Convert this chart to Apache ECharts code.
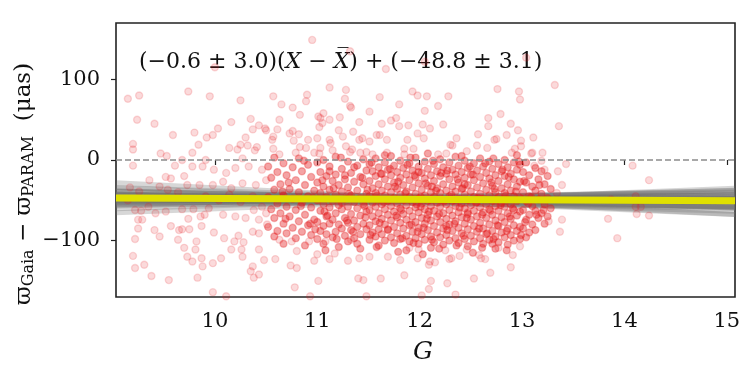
<!DOCTYPE html>
<html lang="en">
<head>
<meta charset="UTF-8">
<title>Gaia - PARAM parallax offset</title>
<script src="https://cdn.jsdelivr.net/npm/echarts@6/dist/echarts.min.js"></script>
<style>
    html, body { margin: 0; padding: 0; background: #fff; }
    #container { width: 750px; height: 375px; }
</style>
</head>
<body>
<div id="container"></div>
<script>
    // axis range and ticks
    var xRange = [9.034, 15.08];
    var yRange = [-170, 170];
    var xTicks = [10, 11, 12, 13, 14, 15];
    var yTicks = [-100, 0, 100];

    // best fit (yellow) at the two ends of the x range
    var fitY = [-47.1, -50.7];

    // posterior sample lines (grey band): value at left end, value at right end
    var bandLeft = [-34.3, -34.1, -42.0, -38.6, -42.2, -39.2, -45.5, -43.1, -49.5, -43.9,
                    -46.4, -42.9, -49.2, -47.5, -46.4, -52.4, -50.7, -50.2, -55.9, -49.5,
                    -54.0, -57.0, -55.5, -60.5, -47.1, -43.9, -48.5, -53.8, -38.6, -51.7,
                    -28.3, -65.4];
    var bandRight = [-67.6, -59.6, -63.7, -57.4, -58.5, -53.1, -57.6, -53.4, -58.0, -50.6,
                     -51.9, -47.1, -52.2, -49.4, -47.0, -51.2, -47.7, -45.4, -49.2, -41.0,
                     -43.1, -43.1, -38.0, -37.5, -50.7, -43.9, -60.0, -47.7, -58.6, -39.6,
                     -67.7, -35.1];

    // stars away from the crowded middle: [G, offset]
    var starsOuter = [
        [9.15,76],[9.26,80],[9.74,85],[9.95,79],[10.25,74],[10.0,115],[9.24,50],[9.41,45],[9.59,31],[9.80,34],
        [10.03,39],[10.16,47],[10.35,51],[10.43,43],[10.37,38],[10.50,37],[9.98,31],[9.92,28],[9.84,19],[10.14,15],
        [10.30,28],[10.32,18],[10.25,19],[10.22,13],[10.39,12],[9.20,13],[9.47,8],[9.53,5],[9.78,9],[9.91,0],
        [9.68,0],[10.27,2],[9.20,20],[9.20,-7],
        [10.95,149],[11.32,135],[11.12,90],[11.28,87],[11.27,76],[11.33,65],[10.90,81],[10.89,73],[10.76,65],[10.57,79],
        [10.65,69],[10.63,50],[10.83,56],[11.01,54],[11.22,53],[11.41,47],[11.51,60],[11.02,41],[11.12,25],[11.25,29],
        [11.35,35],[11.41,25],[10.91,25],[10.73,33],[10.57,29],[10.49,39],[10.41,16],[10.57,14],[10.83,16],[11.02,8],
        [11.15,12],[11.32,10],[11.48,10],
        [13.04,127],[12.05,122],[11.67,113],[13.32,93],[11.61,78],[11.93,85],[11.98,80],[12.07,79],[12.28,79],[12.76,88],
        [12.97,85],[12.98,75],[11.80,69],[12.18,67],[12.05,61],[12.79,57],[13.36,42],[11.72,49],[11.77,52],[11.63,45],
        [11.80,42],[11.89,43],[12.10,39],[12.23,44],[12.67,52],[12.67,42],[12.89,45],[12.96,37],[13.11,28],[12.57,32],
        [12.75,26],[12.85,31],[12.04,27],[12.36,27],[12.30,19],[11.61,31],[11.68,25],
        [11.06,58],[11.12,50],[11.32,67],[10.61,38],[10.76,36],[10.82,32],[11.03,52],[11.05,46],[11.21,37],[11.00,27],
        [11.44,27],[11.58,31],[11.88,25],[11.98,33],[12.03,44],[10.56,25],[10.77,24],[11.13,21],[11.28,17],[11.51,23],
        [11.85,14],[11.94,14],[10.89,15],[11.03,15],[10.97,9],[11.34,13],[11.42,9],[11.54,7],[11.68,9],[11.85,7],
        [10.63,7],[10.79,9],
        [12.73,25],[12.99,24],[12.32,18],[12.56,18],[12.66,15],[12.46,11],[13.10,9],[13.20,9],[12.18,7],[12.26,8],
        [12.90,9],[12.93,14],
        [14.08,-7],[14.24,-25],[13.35,-14],[13.22,-12],[13.19,-1],[13.09,8],[12.99,17],[13.43,-5],[13.39,-31],[13.34,-41],
        [13.87,-49],[14.11,-45],[14.11,-58],[14.16,-58],[14.24,-69],[14.12,-67],[13.84,-73],[13.93,-97],[13.39,-74],[13.37,-89],
        [13.26,-76],[13.12,-7],
        [11.62,-147],[11.85,-143],[12.11,-150],[12.09,-160],[12.27,-153],[12.35,-167],[12.53,-147],[12.69,-140],[12.89,-133],[12.02,-168],
        [11.70,-171],[12.60,-122],[12.91,-118],[12.98,-107],[12.10,-126],[12.15,-127],[11.98,-122],[11.81,-124],[11.69,-120],[12.31,-122],
        [12.39,-119],[12.46,-111],[12.25,-112],[11.90,-109],[11.99,-111],[12.09,-130],[12.29,-123],[12.58,-118],[12.64,-123],[12.77,-109],
        [10.78,-158],[11.01,-150],[11.40,-147],[11.45,-149],[10.74,-131],[10.80,-134],[10.97,-125],[11.00,-117],[11.12,-123],[11.17,-116],
        [11.30,-125],[11.41,-122],[11.51,-120],[10.59,-123],[10.80,-113],[10.75,-101],[10.63,-99],[10.92,-101],[11.08,-101],[11.33,-99],
        [10.93,-169],[11.48,-169],
        [9.61,-7],[9.17,-34],[9.52,-21],[9.57,-23],[9.70,-20],[9.46,-33],[9.54,-37],[9.64,-40],[9.26,-39],[9.22,-62],
        [9.28,-63],[9.35,-58],[9.42,-66],[9.52,-64],[9.25,-74],[9.29,-74],[9.25,-85],[9.41,-87],[9.46,-95],[9.57,-82],
        [9.65,-87],[9.68,-86],[9.75,-86],[9.74,-73],[9.68,-61],[9.79,-61],[9.87,-82],[9.86,-70],[9.90,-68],[9.99,-90],
        [10.09,-97],[10.19,-101],[10.28,-102],[10.37,-89],[10.43,-91],[10.23,-94],[9.22,-98],[9.64,-99],[9.82,-101],[9.70,-109],
        [9.81,-111],[9.73,-120],[9.78,-126],[9.87,-122],[9.88,-132],[9.98,-128],[10.06,-122],[10.16,-111],[10.26,-111],[10.27,-120],
        [10.37,-132],[10.35,-138],[10.38,-146],[10.43,-142],[10.48,-124],[10.43,-111],[9.20,-119],[9.22,-134],[9.31,-130],[9.38,-144],
        [9.55,-149],[9.83,-146],[9.98,-164],[10.11,-169],
        [9.78,-8],[9.88,-8],[9.99,-12],[10.11,-16],[10.20,-10],[10.33,-8],[10.46,-12],[9.73,-31],[9.85,-31],[9.98,-31],
        [10.08,-27],[10.16,-35],[10.27,-29],[10.40,-31],[10.50,-25],[9.91,-45],[10.04,-50],[10.14,-43],[10.25,-52],[10.37,-45],
        [10.46,-58],[9.94,-60],[10.08,-68],[10.20,-70],[10.30,-72],[10.43,-74],[10.51,-80],[10.50,-66],[10.38,-62],[9.36,-25],
        [9.15,-50]
    ];

    // stars in the crowded middle (10.5 < G < 13.3): [G, offset]
    var starsCrowd = [
        [10.52,-8],[10.52,-46],[10.52,-83],[10.55,-22],[10.55,-61],[10.58,3],[10.58,-37],[10.58,-72],[10.58,-95],[10.61,-15],
        [10.61,-54],[10.61,-88],[10.64,-30],[10.64,-66],[10.67,-4],[10.67,-44],[10.67,-79],[10.67,-104],[10.70,-19],[10.70,-58],
        [10.70,-91],[10.73,-36],[10.73,-70],[10.76,-9],[10.76,-48],[10.76,-84],[10.79,-25],[10.79,-62],[10.79,-97],[10.82,2],
        [10.82,-40],[10.82,-76],[10.85,-14],[10.85,-53],[10.85,-89],[10.88,-31],[10.88,-68],[10.88,-106],[10.91,-6],[10.91,-45],
        [10.91,-81],[10.94,-21],[10.94,-59],[10.94,-93],[10.97,-38],[10.97,-74],
        [11.00,-3],[11.00,-28],[11.00,-50],[11.00,-77],[11.00,-98],[11.03,-15],[11.03,-41],[11.03,-63],[11.03,-88],[11.06,0],
        [11.06,-33],[11.06,-55],[11.06,-82],[11.06,-104],[11.09,-20],[11.09,-46],[11.09,-70],[11.09,-92],[11.12,-8],[11.12,-37],
        [11.12,-59],[11.12,-79],[11.15,-26],[11.15,-51],[11.15,-74],[11.15,-96],[11.18,4],[11.18,-18],[11.18,-43],[11.18,-66],
        [11.18,-89],[11.21,-31],[11.21,-56],[11.21,-80],[11.21,-108],[11.24,-11],[11.24,-39],[11.24,-61],[11.24,-85],[11.27,-24],
        [11.27,-48],[11.27,-72],[11.27,-94],[11.30,-2],[11.30,-34],[11.30,-58],[11.30,-78],[11.30,-101],[11.33,-16],[11.33,-44],
        [11.33,-67],[11.33,-87],[11.36,-27],[11.36,-52],[11.36,-75],[11.36,-97],[11.39,-7],[11.39,-38],[11.39,-60],[11.39,-83],
        [11.42,-21],[11.42,-47],[11.42,-69],[11.42,-92],[11.42,-110],[11.45,1],[11.45,-30],[11.45,-55],[11.45,-79],[11.48,-13],
        [11.48,-42],[11.48,-64],[11.48,-86],
        [11.51,-5],[11.51,-26],[11.51,-45],[11.51,-62],[11.51,-81],[11.51,-99],[11.54,-14],[11.54,-35],[11.54,-53],[11.54,-70],
        [11.54,-90],[11.57,2],[11.57,-20],[11.57,-41],[11.57,-58],[11.57,-76],[11.57,-95],[11.60,-9],[11.60,-30],[11.60,-49],
        [11.60,-66],[11.60,-86],[11.60,-106],[11.63,-17],[11.63,-38],[11.63,-55],[11.63,-73],[11.63,-92],[11.66,-3],[11.66,-24],
        [11.66,-44],[11.66,-61],[11.66,-80],[11.66,-100],[11.69,-12],[11.69,-33],[11.69,-51],[11.69,-68],[11.69,-87],[11.72,5],
        [11.72,-19],[11.72,-40],[11.72,-57],[11.72,-75],[11.72,-96],[11.75,-7],[11.75,-28],[11.75,-47],[11.75,-64],[11.75,-83],
        [11.75,-103],[11.78,-15],[11.78,-36],[11.78,-54],[11.78,-71],[11.78,-91],[11.81,-1],[11.81,-22],[11.81,-43],[11.81,-60],
        [11.81,-78],[11.81,-98],[11.84,-10],[11.84,-31],[11.84,-50],[11.84,-67],[11.84,-85],[11.87,-18],[11.87,-39],[11.87,-56],
        [11.87,-74],[11.87,-94],[11.87,-112],[11.90,-4],[11.90,-25],[11.90,-46],[11.90,-63],[11.90,-81],[11.90,-101],[11.93,-13],
        [11.93,-34],[11.93,-52],[11.93,-70],[11.93,-89],[11.96,3],[11.96,-21],[11.96,-42],[11.96,-59],[11.96,-77],[11.96,-97],
        [11.99,-8],[11.99,-29],[11.99,-48],[11.99,-65],[11.99,-84],[11.99,-104],[12.02,-16],[12.02,-37],[12.02,-54],[12.02,-72],
        [12.02,-92],[12.05,-2],[12.05,-23],[12.05,-44],[12.05,-61],[12.05,-79],[12.05,-99],[12.08,-11],[12.08,-32],[12.08,-51],
        [12.08,-68],[12.08,-87],[12.11,-19],[12.11,-40],[12.11,-57],[12.11,-75],[12.11,-95],[12.11,-109],[12.14,-5],[12.14,-26],
        [12.14,-46],[12.14,-63],[12.14,-82],[12.14,-102],[12.17,-14],[12.17,-35],[12.17,-53],[12.17,-70],[12.17,-90],[12.20,1],
        [12.20,-20],[12.20,-41],[12.20,-58],[12.20,-77],[12.20,-96],[12.23,-9],[12.23,-30],[12.23,-49],[12.23,-66],[12.23,-85],
        [12.23,-105],[12.26,-17],[12.26,-38],[12.26,-55],[12.26,-73],[12.26,-93],[12.29,-3],[12.29,-24],[12.29,-45],[12.29,-62],
        [12.29,-80],[12.29,-100],[12.32,-12],[12.32,-33],[12.32,-51],[12.32,-69],[12.32,-88],[12.35,4],[12.35,-18],[12.35,-39],
        [12.35,-57],[12.35,-76],[12.35,-97],[12.38,-7],[12.38,-28],[12.38,-48],[12.38,-65],[12.38,-84],[12.38,-103],[12.41,-15],
        [12.41,-36],[12.41,-54],[12.41,-71],[12.41,-91],[12.44,-1],[12.44,-22],[12.44,-43],[12.44,-60],[12.44,-79],[12.44,-98],
        [12.47,-10],[12.47,-31],[12.47,-50],[12.47,-67],[12.47,-86],[12.47,-107],[12.50,-18],[12.50,-39],[12.50,-56],[12.50,-74],
        [12.50,-94],[12.53,-4],[12.53,-25],[12.53,-46],[12.53,-63],[12.53,-82],[12.53,-101],[12.56,-13],[12.56,-34],[12.56,-52],
        [12.56,-70],[12.56,-89],[12.59,2],[12.59,-21],[12.59,-42],[12.59,-59],[12.59,-78],[12.59,-97],[12.62,-8],[12.62,-29],
        [12.62,-48],[12.62,-65],[12.62,-85],[12.62,-104],[12.65,-16],[12.65,-37],[12.65,-55],[12.65,-72],[12.65,-92],[12.68,-2],
        [12.68,-23],[12.68,-44],[12.68,-61],[12.68,-80],[12.68,-99],[12.71,-11],[12.71,-32],[12.71,-51],[12.71,-68],[12.71,-88],
        [12.74,-19],[12.74,-40],[12.74,-57],[12.74,-75],[12.74,-95],[12.74,-110],[12.77,-5],[12.77,-26],[12.77,-46],[12.77,-63],
        [12.77,-82],[12.77,-102],[12.80,-14],[12.80,-35],[12.80,-53],[12.80,-71],[12.80,-90],[12.83,0],[12.83,-20],[12.83,-41],
        [12.83,-58],[12.83,-77],[12.83,-96],[12.86,-9],[12.86,-30],[12.86,-49],[12.86,-66],[12.86,-85],[12.86,-105],[12.89,-17],
        [12.89,-38],[12.89,-55],[12.89,-73],[12.89,-93],[12.92,-3],[12.92,-24],[12.92,-45],[12.92,-62],[12.92,-81],[12.92,-100],
        [12.95,-12],[12.95,-33],[12.95,-51],[12.95,-69],[12.95,-88],[12.98,-6],[12.98,-27],[12.98,-47],[12.98,-64],[12.98,-83],
        [12.98,-98],
        [13.01,-15],[13.01,-40],[13.01,-62],[13.01,-85],[13.04,-3],[13.04,-28],[13.04,-51],[13.04,-74],[13.04,-96],[13.07,-19],
        [13.07,-45],[13.07,-68],[13.07,-90],[13.10,-33],[13.10,-57],[13.10,-80],[13.13,-10],[13.13,-38],[13.13,-63],[13.13,-87],
        [13.16,-24],[13.16,-49],[13.16,-72],[13.19,-14],[13.19,-42],[13.19,-66],[13.22,-30],[13.22,-55],[13.22,-79],[13.25,-20],
        [13.25,-47],[13.25,-70],[13.28,-36],[13.28,-60],
        [11.53,-3],[11.71,-11],[11.88,-6],[12.13,-1],[12.27,-13],[12.49,-8],[12.64,-4],[12.81,-12],[12.97,-2],[11.36,-9],
        [11.12,-14],[10.87,-1],[11.44,-22],[11.62,-17],[11.79,-27],[11.95,-19],[12.06,-29],[12.21,-16],[12.37,-24],[12.52,-18],
        [12.70,-28],[12.87,-21],[13.02,-26],[13.17,-31],[11.27,-19],[11.05,-25],[10.72,-28],[12.44,-30],[11.99,-15],[11.49,-37],
        [11.58,-44],[11.76,-33],[11.86,-41],[12.01,-46],[12.16,-38],[12.31,-43],[12.42,-35],[12.57,-47],[12.73,-36],[12.84,-44],
        [12.94,-39],[13.09,-46],[11.31,-42],[11.16,-35],[10.96,-47],[10.66,-39],[12.12,-33],[11.46,-57],[11.65,-52],[11.82,-62],
        [11.97,-55],[12.09,-64],[12.24,-51],[12.39,-59],[12.55,-53],[12.69,-63],[12.79,-56],[12.91,-60],[13.06,-54],[13.21,-62],
        [11.24,-53],[11.07,-64],[10.84,-57],[12.47,-65],[12.01,-58],[11.47,-71],[11.61,-78],[11.77,-69],[11.92,-80],[12.07,-73],
        [12.19,-67],[12.34,-79],[12.46,-72],[12.61,-68],[12.76,-81],[12.88,-70],[13.03,-77],[13.14,-68],[11.29,-75],[11.10,-69],
        [10.93,-79],[10.69,-73],[12.26,-82],[11.52,-93],[11.69,-86],[11.83,-97],[11.98,-89],[12.12,-99],[12.27,-87],[12.43,-94],
        [12.58,-85],[12.72,-98],[12.85,-88],[12.99,-93],[11.35,-89],[11.19,-98],[10.98,-86],[12.66,-91],[12.04,-84],[11.58,-108],
        [11.79,-114],[11.94,-103],[12.19,-110],[12.36,-106],[12.52,-115],[12.71,-104],[12.85,-112],[11.39,-104],[11.08,-112],[12.03,-117],
        [12.61,-109],[11.66,6],[11.91,3],[12.08,8],[12.41,5],[12.72,2],[12.95,6],[11.23,3]
    ];

    var chart = echarts.init(document.getElementById('container'), null, { renderer: 'canvas' });

    var serif = "'DejaVu Serif', serif";
    var red = '228,26,28';

    function minusFmt(v) {
        return v < 0 ? '\u2212' + Math.abs(v) : String(v);
    }

    var option = {
        animation: false,
        backgroundColor: '#fff',
        grid: {
            left: 116, right: 15, top: 23, bottom: 78,
            show: true, borderColor: '#222', borderWidth: 1.6, backgroundColor: 'transparent'
        },
        xAxis: {
            type: 'value',
            min: xRange[0], max: xRange[1],
            splitLine: { show: false },
            axisLine: { show: false },
            axisTick: { show: true, length: 5, lineStyle: { color: '#222', width: 1.2 }, customValues: xTicks },
            axisLabel: { customValues: xTicks, fontFamily: serif, fontSize: 21, color: '#111', margin: 14 }
        },
        yAxis: {
            type: 'value',
            min: yRange[0], max: yRange[1],
            splitLine: { show: false },
            axisLine: { show: false },
            axisTick: { show: true, length: 5, lineStyle: { color: '#222', width: 1.2 }, customValues: yTicks },
            axisLabel: { customValues: yTicks, formatter: minusFmt, fontFamily: serif, fontSize: 21, color: '#111', margin: 16 }
        },
        series: [
            {
                // grey band of sampled lines
                type: 'lines',
                coordinateSystem: 'cartesian2d',
                polyline: false,
                silent: true,
                z: 1,
                lineStyle: { color: 'rgb(110,110,110)', width: 5, opacity: 0.28 },
                data: bandLeft.map(function (l, i) {
                    return { coords: [[xRange[0], l], [xRange[1], bandRight[i]]] };
                })
            },
            {
                type: 'scatter',
                z: 2,
                symbolSize: 7,
                itemStyle: { color: 'rgba(' + red + ',0.2)', borderColor: 'rgba(' + red + ',0.2)', borderWidth: 1.4 },
                data: starsOuter
            },
            {
                type: 'scatter',
                z: 2,
                symbolSize: 7,
                itemStyle: { color: 'rgba(' + red + ',0.5)', borderColor: 'rgba(' + red + ',0.36)', borderWidth: 1.4 },
                data: starsCrowd
            },
            {
                // best fit
                type: 'line',
                z: 3,
                showSymbol: false,
                silent: true,
                lineStyle: { color: '#e0e000', width: 7 },
                data: [[xRange[0], fitY[0]], [xRange[1], fitY[1]]],
                markLine: {
                    silent: true,
                    symbol: ['none', 'none'],
                    label: { show: false },
                    lineStyle: { color: '#8c8c8c', type: [6, 3], width: 1.5 },
                    data: [{ yAxis: 0 }]
                }
            }
        ],
        graphic: [
            {
                type: 'text',
                left: 139, top: 51,
                style: {
                    text: '(\u22120.6 \u00b1 3.0)({it|X} \u2212 {it|X\u0305}) + (\u221248.8 \u00b1 3.1)',
                    font: '22px ' + serif,
                    fill: '#111',
                    rich: { it: { fontStyle: 'italic', fontFamily: serif, fontSize: 22 } }
                }
            },
            {
                type: 'text',
                x: 423, y: 352,
                style: {
                    text: 'G', font: 'italic 25px ' + serif, fill: '#111',
                    align: 'center', verticalAlign: 'middle'
                }
            },
            {
                type: 'text',
                x: 24, y: 184,
                rotation: Math.PI / 2,
                style: {
                    text: '\u03d6{sub|Gaia} \u2212 \u03d6{sub|PARAM}  (\u03bcas)',
                    font: '23px ' + serif,
                    fill: '#111',
                    align: 'center', verticalAlign: 'middle',
                    rich: { sub: { fontSize: 16, fontFamily: serif, padding: [10, 0, 0, 0] } }
                }
            }
        ]
    };

    chart.setOption(option);
</script>
</body>
</html>
